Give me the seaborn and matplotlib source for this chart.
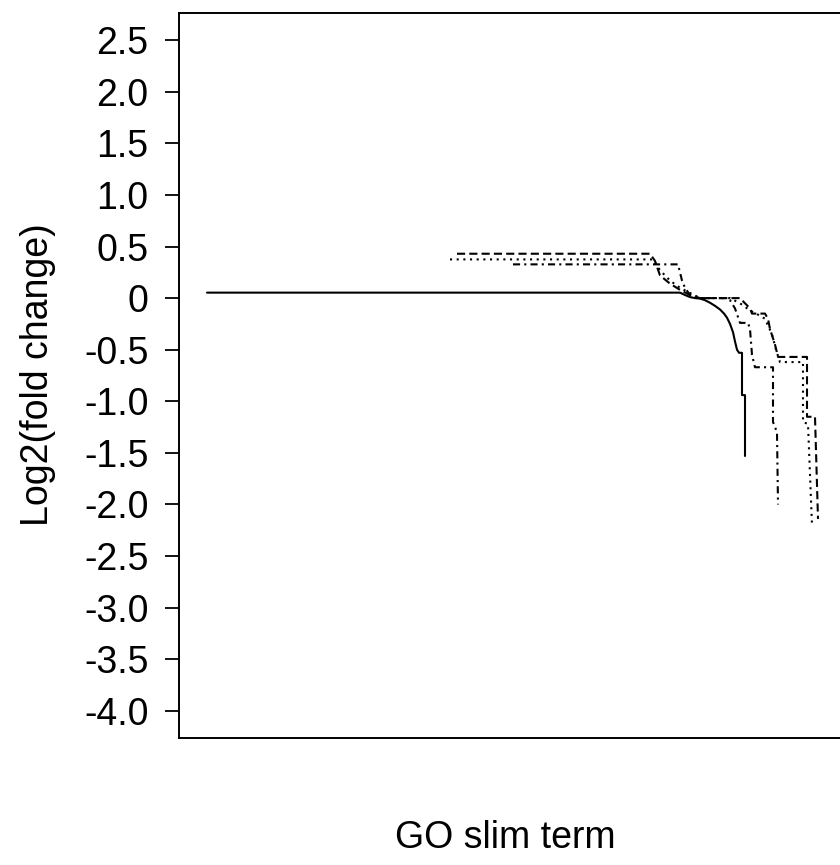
import matplotlib
matplotlib.use("Agg")
import matplotlib.pyplot as plt
import seaborn as sns
import pandas as pd

# Ranked log2 fold changes of GO slim terms, one curve per comparison.
# Rank positions are on the plot's x scale (0 = left edge of the axis box).
solid_rank = [28, 501, 506, 511, 516, 521, 526, 531, 536, 541, 545, 548, 551, 554, 556,
              558, 560, 563, 563, 566, 566]
solid_lfc = [0.053, 0.053, 0.03, 0.01, 0.0, -0.005, -0.02, -0.045, -0.075, -0.11, -0.15,
             -0.19, -0.25, -0.33, -0.42, -0.5, -0.53, -0.53, -0.94, -0.94, -1.53]

dashed_rank = [278, 471, 476, 481, 491, 501, 511, 521, 561, 566, 571, 573, 586, 589, 591,
               596, 599, 628, 628, 636, 639]
dashed_lfc = [0.43, 0.43, 0.36, 0.22, 0.14, 0.08, 0.03, 0.0, 0.0, -0.05, -0.1, -0.15, -0.15,
              -0.2, -0.3, -0.45, -0.57, -0.57, -1.15, -1.15, -2.14]

dotted_rank = [271, 474, 481, 491, 501, 511, 521, 551, 561, 571, 579, 586, 593, 597, 601,
               624, 624, 629, 633]
dotted_lfc = [0.375, 0.375, 0.27, 0.17, 0.1, 0.05, 0.0, 0.0, -0.05, -0.12, -0.16, -0.2,
              -0.35, -0.5, -0.62, -0.62, -1.2, -1.22, -2.2]

dotdash_rank = [334, 499, 503, 506, 511, 521, 546, 551, 556, 561, 569, 571, 573, 576, 594,
                594, 598, 599]
dotdash_lfc = [0.327, 0.327, 0.17, 0.1, 0.03, 0.0, 0.0, -0.02, -0.1, -0.24, -0.24, -0.3,
               -0.55, -0.67, -0.67, -1.2, -1.3, -2.0]

y_ticks = [2.5, 2.0, 1.5, 1.0, 0.5, 0.0, -0.5, -1.0, -1.5, -2.0, -2.5, -3.0, -3.5, -4.0]
y_tick_labels = ["2.5", "2.0", "1.5", "1.0", "0.5", "0", "-0.5", "-1.0", "-1.5", "-2.0",
                 "-2.5", "-3.0", "-3.5", "-4.0"]

frames = []
for name, r, v in [("solid", solid_rank, solid_lfc),
                   ("dashed", dashed_rank, dashed_lfc),
                   ("dotted", dotted_rank, dotted_lfc),
                   ("dotdash", dotdash_rank, dotdash_lfc)]:
    frames.append(pd.DataFrame({"rank": r, "lfc": v, "series": name}))
df = pd.concat(frames, ignore_index=True)

sns.set_theme(style="ticks")
plt.rcParams["font.family"] = ["Liberation Sans", "DejaVu Sans"]

W, H = 840, 865
fig = plt.figure(figsize=(W / 100, H / 100), dpi=100)
left, right, top, bottom = 179, 879, 13.3, 737.7
ax = fig.add_axes([left / W, 1 - bottom / H, (right - left) / W, (bottom - top) / H])

sns.lineplot(
    data=df, x="rank", y="lfc", style="series",
    dashes={"solid": "", "dashed": (3.9, 2.0), "dotted": (1, 2.2), "dotdash": (3.4, 2.0, 1, 2.0)},
    color="black", linewidth=1.5, sort=False, estimator=None, legend=False, ax=ax,
)

ax.set_xlim(0, right - left)
ax.set_ylim(-4.26, 2.76)
ax.set_xticks([])
ax.set_yticks(y_ticks)
ax.set_yticklabels(y_tick_labels)
ax.tick_params(axis="y", length=10, width=1.3, pad=12, labelsize=27, color="black",
               labelcolor="black")
for side in ["left", "top", "bottom"]:
    ax.spines[side].set_visible(True)
    ax.spines[side].set_linewidth(1.4)
    ax.spines[side].set_color("black")
ax.spines["right"].set_visible(False)
ax.set_xlabel("")
ax.set_ylabel("")
fig.text(38 / W, 1 - 375 / H, "Log2(fold change)", fontsize=27, rotation=90,
         ha="center", va="center", color="black")
fig.text(505 / W, 1 - 838 / H, "GO slim term", fontsize=27, ha="center", va="center",
         color="black")

fig.savefig("out.png", dpi=100)
